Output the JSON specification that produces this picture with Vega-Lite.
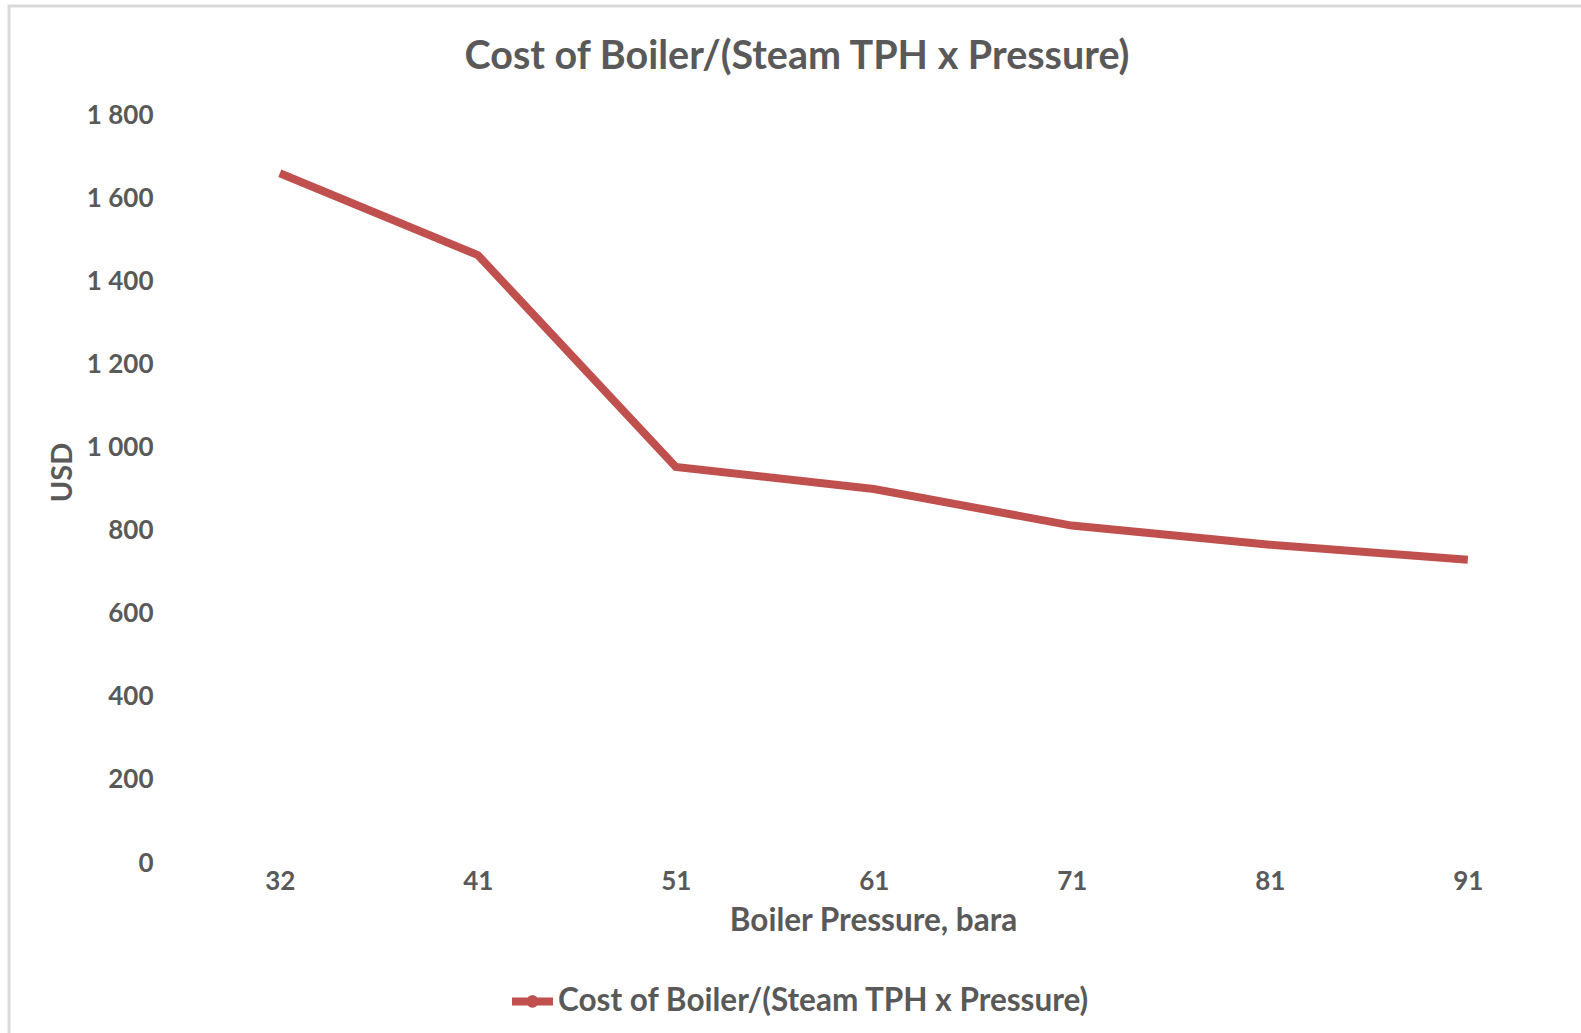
{
  "$schema": "https://vega.github.io/schema/vega-lite/v6.json",
  "autosize": {"type": "none"},
  "padding": {"left": 9, "top": 6, "right": -4, "bottom": -4},
  "width": 1576,
  "height": 1031,
  "background": "white",
  "title": {
    "text": "Cost of Boiler/(Steam TPH x Pressure)",
    "font": "Lato",
    "fontSize": 39.5,
    "fontWeight": "bold",
    "color": "#595959",
    "anchor": "middle",
    "frame": "group",
    "baseline": "middle",
    "offset": -90
  },
  "data": {
    "values": [
      {"pressure": "32", "usd": 1660, "series": "Cost of Boiler/(Steam TPH x Pressure)"},
      {"pressure": "41", "usd": 1463, "series": "Cost of Boiler/(Steam TPH x Pressure)"},
      {"pressure": "51", "usd": 953, "series": "Cost of Boiler/(Steam TPH x Pressure)"},
      {"pressure": "61", "usd": 900, "series": "Cost of Boiler/(Steam TPH x Pressure)"},
      {"pressure": "71", "usd": 812, "series": "Cost of Boiler/(Steam TPH x Pressure)"},
      {"pressure": "81", "usd": 766, "series": "Cost of Boiler/(Steam TPH x Pressure)"},
      {"pressure": "91", "usd": 730, "series": "Cost of Boiler/(Steam TPH x Pressure)"}
    ]
  },
  "mark": {"type": "line", "strokeWidth": 8, "strokeCap": "butt", "strokeJoin": "miter"},
  "encoding": {
    "x": {
      "field": "pressure",
      "type": "ordinal",
      "sort": null,
      "scale": {"type": "point", "padding": 0.9798, "align": 0.698},
      "axis": {
        "title": "Boiler Pressure, bara",
        "orient": "bottom",
        "offset": -174,
        "labelAngle": 0,
        "labelPadding": 5,
        "titlePadding": 11,
        "titleX": 864,
        "titleFontSize": 31.5
      }
    },
    "y": {
      "field": "usd",
      "type": "quantitative",
      "scale": {"domain": [-418.7, 2062.3], "nice": false, "zero": false},
      "axis": {
        "title": "USD",
        "offset": -172,
        "labelPadding": 28,
        "titlePadding": 9,
        "titleY": 466,
        "titleFontSize": 29,
        "values": [0, 200, 400, 600, 800, 1000, 1200, 1400, 1600, 1800],
        "labelExpr": "replace(format(datum.value, ','), ',', ' ')"
      }
    },
    "color": {
      "field": "series",
      "type": "nominal",
      "scale": {"range": ["#C0504D"]},
      "legend": {
        "title": null,
        "orient": "none",
        "legendX": 503,
        "legendY": 975,
        "padding": 0,
        "symbolType": "M-1,-0.2H1V0.2H-1Z M-0.3,0A0.3,0.3 0 1,1 0.3,0A0.3,0.3 0 1,1 -0.3,0Z",
        "symbolSize": 1681,
        "labelOffset": 5,
        "labelFont": "Lato",
        "labelFontSize": 31.5,
        "labelFontWeight": "bold",
        "labelColor": "#595959",
        "labelLimit": 0,
        "encode": {
          "symbols": {
            "update": {
              "fill": {"value": "#C0504D"},
              "stroke": {"value": "#C0504D"},
              "strokeWidth": {"value": 0},
              "opacity": {"value": 1}
            }
          }
        }
      }
    }
  },
  "config": {
    "view": {"stroke": "#D9D9D9", "strokeWidth": 3},
    "axis": {
      "grid": false,
      "domain": false,
      "ticks": false,
      "labelFont": "Lato",
      "labelFontSize": 26,
      "labelFontWeight": "bold",
      "labelColor": "#595959",
      "titleFont": "Lato",
      "titleFontSize": 28,
      "titleFontWeight": "bold",
      "titleColor": "#595959"
    }
  }
}
